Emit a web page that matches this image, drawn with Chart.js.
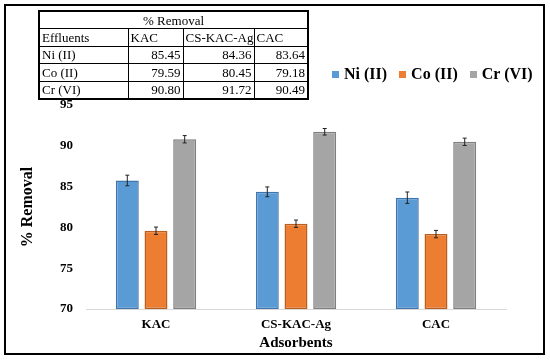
<!DOCTYPE html>
<html>
<head>
<meta charset="utf-8">
<script src="https://cdn.jsdelivr.net/npm/chart.js@4"></script>
<style>
  body { margin: 0; background: #fff; }
  #wrap { position: relative; width: 550px; height: 361px; }
  #frame { position: absolute; left: 4px; top: 4px; width: 541px; height: 351px; border: 2px solid #000; box-sizing: border-box; pointer-events: none; }
  canvas { position: absolute; left: 0; top: 0; }
  #tbl { position: absolute; left: 38px; top: 10px; border-collapse: collapse; table-layout: fixed; width: 269px;
         font-family: "Liberation Serif", "Times New Roman", serif; font-size: 13px; border: 2px solid #000; }
  #tbl td { border: 1px solid #000; padding: 0 2px; height: 16.4px; line-height: 15px; white-space: nowrap; overflow: hidden; }
  #tbl td.num { text-align: right; }
  #legend { position: absolute; left: 332px; top: 65px; display: flex; font-family: "Liberation Serif", serif; font-weight: bold; font-size: 16px; }
  #legend .item { display: flex; align-items: center; margin-right: 12px; }
  #legend .sw { width: 7px; height: 7px; margin-right: 5px; }
</style>
</head>
<body>
<div id="wrap">
  <canvas id="chart" width="550" height="361"></canvas>
  <table id="tbl"></table>
  <div id="legend"></div>
  <div id="frame"></div>
</div>
<script>
// data
const adsorbents = ['KAC', 'CS-KAC-Ag', 'CAC'];
const seriesNames = ['Ni (II)', 'Co (II)', 'Cr (VI)'];
const niValues = [85.75, 84.36, 83.64];
const coValues = [79.59, 80.45, 79.18];
const crValues = [90.80, 91.72, 90.49];
const niErr = [0.65, 0.6, 0.7];
const coErr = [0.45, 0.45, 0.45];
const crErr = [0.45, 0.4, 0.45];
const yTicks = [70, 75, 80, 85, 90, 95];

// table text as printed on the figure
const tableRows = [
  ['Ni (II)', '85.45', '84.36', '83.64'],
  ['Co (II)', '79.59', '80.45', '79.18'],
  ['Cr (VI)', '90.80', '91.72', '90.49']
];

const fills = ['#5b9bd5', '#ed7d31', '#a5a5a5'];
const borders = ['#3f76ad', '#b85f22', '#7f7f7f'];

// table
const tbl = document.getElementById('tbl');
let html = '<colgroup><col style="width:89px"><col style="width:55px"><col style="width:71px"><col style="width:54px"></colgroup>';
html += '<tr><td colspan="4" style="text-align:center">% Removal</td></tr>';
html += '<tr><td>Effluents</td>' + adsorbents.map(a => '<td>' + a + '</td>').join('') + '</tr>';
tableRows.forEach(r => {
  html += '<tr><td>' + r[0] + '</td>' + r.slice(1).map(v => '<td class="num">' + v + '</td>').join('') + '</tr>';
});
tbl.innerHTML = html;

// legend
const legend = document.getElementById('legend');
seriesNames.forEach((n, i) => {
  legend.innerHTML += '<div class="item"><div class="sw" style="background:' + fills[i] + '"></div><span>' + n + '</span></div>';
});

const errors = [niErr, coErr, crErr];

const errorBars = {
  id: 'errorBars',
  afterDatasetsDraw(chart) {
    const ctx = chart.ctx;
    const y = chart.scales.y;
    ctx.save();
    ctx.strokeStyle = '#222';
    ctx.lineWidth = 1;
    chart.data.datasets.forEach((ds, i) => {
      const meta = chart.getDatasetMeta(i);
      meta.data.forEach((bar, j) => {
        const v = ds.data[j];
        const e = errors[i][j];
        const top = y.getPixelForValue(v + e);
        const bot = y.getPixelForValue(v - e);
        ctx.beginPath();
        ctx.moveTo(bar.x, top); ctx.lineTo(bar.x, bot);
        ctx.moveTo(bar.x - 2, top); ctx.lineTo(bar.x + 2, top);
        ctx.moveTo(bar.x - 2, bot); ctx.lineTo(bar.x + 2, bot);
        ctx.stroke();
      });
    });
    ctx.restore();
  }
};

const values = [niValues, coValues, crValues];

new Chart(document.getElementById('chart'), {
  type: 'bar',
  data: {
    labels: adsorbents,
    datasets: seriesNames.map((n, i) => ({
      label: n,
      data: values[i],
      base: 70,
      backgroundColor: fills[i],
      borderColor: borders[i],
      borderWidth: 1.5,
      borderSkipped: false,
      barPercentage: 0.8,
      categoryPercentage: 0.615
    }))
  },
  options: {
    responsive: false,
    animation: false,
    layout: { padding: { left: 10, right: 44, top: 105, bottom: 0 } },
    plugins: { legend: { display: false }, tooltip: { enabled: false } },
    scales: {
      x: {
        grid: { display: false, drawTicks: false },
        border: { display: true, color: '#d9d9d9', width: 1 },
        ticks: { color: '#000', padding: 8, font: { family: 'Liberation Serif', weight: 'bold', size: 13 } },
        title: { display: true, text: 'Adsorbents', color: '#000', padding: { top: 0, bottom: 9 },
                 font: { family: 'Liberation Serif', weight: 'bold', size: 15 } },
        afterFit(s) { s.height = 52; }
      },
      y: {
        min: 70, max: 95,
        afterBuildTicks(s) { s.ticks = yTicks.map(v => ({ value: v })); },
        grid: { display: false, drawTicks: false },
        border: { display: false },
        ticks: { color: '#000', padding: 13, font: { family: 'Liberation Serif', weight: 'bold', size: 13 } },
        title: { display: true, text: '% Removal', color: '#000', padding: { top: 8, bottom: 0 },
                 font: { family: 'Liberation Serif', weight: 'bold', size: 16 } },
        afterFit(s) { s.width = 76; }
      }
    }
  },
  plugins: [errorBars]
});
</script>
</body>
</html>
